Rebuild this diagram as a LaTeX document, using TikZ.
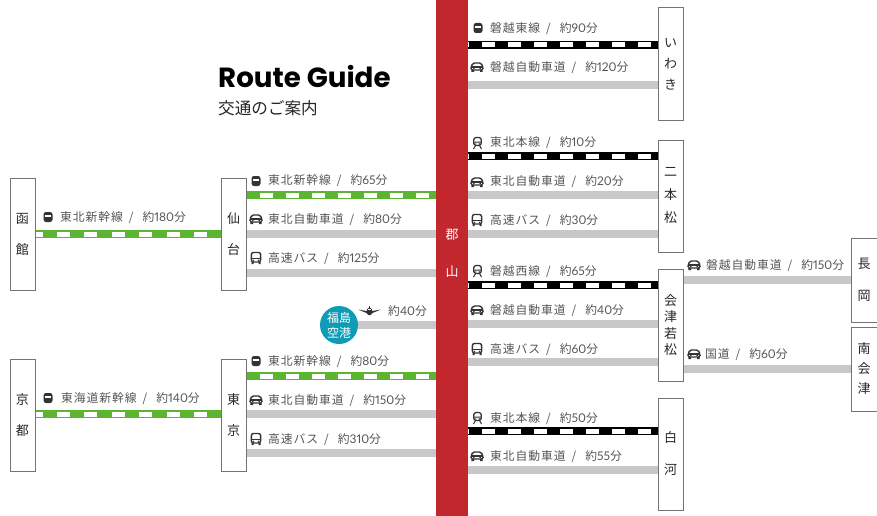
\documentclass[tikz,border=0pt]{standalone}
\usepackage{fontspec}
\setmainfont{Noto Sans CJK JP}
\newfontfamily\titlefont{Poppins}
\newfontfamily\routefont[LetterSpace=8]{Noto Sans CJK JP}
\newfontfamily\digitfont[Numbers=Proportional]{Lato}
\usetikzlibrary{arrows.meta}

\definecolor{koriyamared}{HTML}{C1272D}
\definecolor{railgreen}{HTML}{5CB531}
\definecolor{roadgray}{HTML}{C8C8C8}
\definecolor{airportblue}{HTML}{0E9BB6}
\definecolor{labelgray}{HTML}{555555}
\definecolor{iconblack}{HTML}{333333}

\newcommand{\rsep}{\hspace{6pt}/\hspace{9pt}}
\newcommand{\rtime}[1]{約{\digitfont\fontsize{12}{14}\selectfont #1}分}

\tikzset{
    city/.style={shape=rectangle,draw=black!55,line width=1pt,fill=white,minimum width=25pt,inner sep=0pt,align=center,font=\fontsize{13}{17}\selectfont,text=black!85},
    route/.style={anchor=west,inner sep=0pt,yshift=-1pt,text=labelgray,font=\routefont\fontsize{11.8}{14}\selectfont},
    road/.style={draw=roadgray,line width=8pt},
    greenrail/.style={draw=railgreen,line width=8pt,postaction={draw=white,line width=5pt,dash pattern=on 13pt off 13pt,dash phase=13pt}},
    widerail/.style={draw=railgreen,line width=8pt,postaction={draw=white,line width=5pt,dash pattern=on 13pt off 14.4pt,dash phase=6pt}},
    blackrail/.style={draw=black,line width=8pt,postaction={draw=white,line width=5pt,dash pattern=on 13pt off 13pt,dash phase=12pt}},
    pics/expressicon/.style={code={
        \fill[iconblack,rounded corners=2.5pt] (-4.5,-5) rectangle (4.5,5);
        \fill[white] (-3,-2) rectangle (3,0.4);
    }},
    pics/localicon/.style={code={
        \draw[iconblack,line width=1.3pt,fill=white,rounded corners=2.5pt] (-3.8,-5.5) rectangle (3.8,2.5);
        \draw[iconblack,line width=1pt] (-3.8,-1) -- (3.8,-1) (-2,2.5) -- (-4,6) (2,2.5) -- (4,6);
        \fill[iconblack] (-1.7,1) circle (0.8) (1.7,1) circle (0.8);
    }},
    pics/caricon/.style={code={
        \draw[iconblack,line width=1.4pt,fill=white,rounded corners=1.5pt] (-6,3) -- (-6,0) -- (-4,-4) -- (4,-4) -- (6,0) -- (6,3) -- cycle;
        \draw[iconblack,line width=1.1pt] (-6,0) -- (6,0);
        \fill[iconblack] (-5.7,3) rectangle (-3,5) (5.7,3) rectangle (3,5);
        \fill[iconblack] (-3.2,1.6) circle (0.9) (3.2,1.6) circle (0.9);
    }},
    pics/busicon/.style={code={
        \draw[iconblack,line width=1.4pt,fill=white,rounded corners=2pt] (-4.6,-5.5) rectangle (4.6,4);
        \draw[iconblack,line width=1.1pt] (-4.6,0.5) -- (4.6,0.5);
        \fill[iconblack] (-4.5,4) rectangle (-2.5,6.2) (4.5,4) rectangle (2.5,6.2);
        \fill[iconblack] (-2.4,2.3) circle (0.8) (2.4,2.3) circle (0.8);
    }},
    pics/planeicon/.style={code={
        \fill[iconblack] (-11.5,-1.5) -- (-3,0) -- (3,0) -- (11.5,-1.5) -- (3,2) -- (-3,2) -- cycle;
        \fill[iconblack,rounded corners=1.5pt] (-2.6,-3) rectangle (2.6,4);
        \fill[iconblack] (-0.5,-5) rectangle (0.5,-3);
        \fill[white] (-1.6,-1.6) rectangle (1.6,-0.8);
    }}
}

\begin{document}
\begin{tikzpicture}[x=1pt,y=-1pt]
    \useasboundingbox (0,0) rectangle (877,516);

    % title
    \node[anchor=west,inner sep=0pt,font=\titlefont\bfseries\fontsize{27.7}{30}\selectfont] (title) at (218,77) {Route Guide};
    \node[anchor=west,inner sep=0pt,text=black!85,font=\fontsize{16.6}{20}\selectfont] (subtitle) at (218,108) {交通のご案内};

    % bar and towns
    \node[shape=rectangle,fill=koriyamared,minimum width=32pt,minimum height=516pt,inner sep=0pt] (koriyama) at (452,258) {};
    \node[inner sep=0pt,text=white,align=center,font=\fontsize{13}{37}\selectfont] (koriyamaname) at (452,253) {郡\\山};

    \node[city,minimum height=112pt,font=\fontsize{13}{31}\selectfont] (hakodate) at (22.5,234) {函\\館};
    \node[city,minimum height=112pt,font=\fontsize{13}{31}\selectfont] (sendai) at (233.5,234) {仙\\台};
    \node[city,minimum height=112pt,font=\fontsize{13}{31}\selectfont] (kyoto) at (22.5,415) {京\\都};
    \node[city,minimum height=112pt,font=\fontsize{13}{31}\selectfont] (tokyo) at (233.5,415) {東\\京};
    \node[city,minimum height=112pt,font=\fontsize{13}{21}\selectfont] (iwaki) at (670.5,64) {い\\わ\\き};
    \node[city,minimum height=112pt,font=\fontsize{13}{23}\selectfont] (nihonmatsu) at (670.5,196) {二\\本\\松};
    \node[city,minimum height=112pt,font=\fontsize{13}{16.4}\selectfont] (aizu) at (670.5,325) {会\\津\\若\\松};
    \node[city,minimum height=112pt,font=\fontsize{13}{32}\selectfont] (shirakawa) at (670.5,454) {白\\河};
    \node[city,minimum width=26pt,minimum height=84pt,font=\fontsize{13}{32}\selectfont] (nagaoka) at (864,280) {長\\岡};
    \node[city,minimum width=26pt,minimum height=84pt,font=\fontsize{13}{20}\selectfont] (minamiaizu) at (864,369) {南\\会\\津};
    \node[shape=circle,fill=airportblue,minimum size=38pt,inner sep=0pt,text=white,align=center,font=\fontsize{12}{15}\selectfont] (airport) at (339,325) {福島\\空港};

    % connectors
    \draw[widerail] (hakodate.east |- 0,234) -- (sendai.west |- 0,234);
    \draw[greenrail] (sendai.east |- 0,195) -- (koriyama.west |- 0,195);
    \draw[road] (sendai.east |- 0,234) -- (koriyama.west |- 0,234);
    \draw[road] (sendai.east |- 0,273) -- (koriyama.west |- 0,273);
    \draw[road] (airport.east |- 0,325) -- (koriyama.west |- 0,325);
    \draw[widerail] (kyoto.east |- 0,414) -- (tokyo.west |- 0,414);
    \draw[greenrail] (tokyo.east |- 0,376) -- (koriyama.west |- 0,376);
    \draw[road] (tokyo.east |- 0,414) -- (koriyama.west |- 0,414);
    \draw[road] (tokyo.east |- 0,453) -- (koriyama.west |- 0,453);

    \draw[blackrail] (koriyama.east |- 0,45) -- (iwaki.west |- 0,45);
    \draw[road] (koriyama.east |- 0,85) -- (iwaki.west |- 0,85);
    \draw[blackrail] (koriyama.east |- 0,156) -- (nihonmatsu.west |- 0,156);
    \draw[road] (koriyama.east |- 0,195) -- (nihonmatsu.west |- 0,195);
    \draw[road] (koriyama.east |- 0,234) -- (nihonmatsu.west |- 0,234);
    \draw[blackrail] (koriyama.east |- 0,285) -- (aizu.west |- 0,285);
    \draw[road] (koriyama.east |- 0,324) -- (aizu.west |- 0,324);
    \draw[road] (koriyama.east |- 0,362) -- (aizu.west |- 0,362);
    \draw[blackrail] (koriyama.east |- 0,431) -- (shirakawa.west |- 0,431);
    \draw[road] (koriyama.east |- 0,470) -- (shirakawa.west |- 0,470);
    \draw[road] (aizu.east |- 0,280) -- (nagaoka.west |- 0,280);
    \draw[road] (aizu.east |- 0,369) -- (minamiaizu.west |- 0,369);

    % labels, left side
    \pic at (48,217) {expressicon};
    \node[route] (r1) at (60,217) {東北新幹線\rsep\rtime{180}};
    \pic at (256,181) {expressicon};
    \node[route] (r2) at (268,180) {東北新幹線\rsep\rtime{65}};
    \pic at (256,219) {caricon};
    \node[route] (r3) at (268,219) {東北自動車道\rsep\rtime{80}};
    \pic at (256,258) {busicon};
    \node[route] (r4) at (268,258) {高速バス\rsep\rtime{125}};
    \pic at (369.5,311) {planeicon};
    \node[route] (r5) at (388,310) {\rtime{40}};
    \pic at (48,398) {expressicon};
    \node[route] (r6) at (61,398) {東海道新幹線\rsep\rtime{140}};
    \pic at (256,361) {expressicon};
    \node[route] (r7) at (268,361) {東北新幹線\rsep\rtime{80}};
    \pic at (256,400) {caricon};
    \node[route] (r8) at (268,400) {東北自動車道\rsep\rtime{150}};
    \pic at (256,439) {busicon};
    \node[route] (r9) at (268,439) {高速バス\rsep\rtime{310}};

    % labels, right side
    \pic at (478,28) {expressicon};
    \node[route] (r10) at (490,28) {磐越東線\rsep\rtime{90}};
    \pic at (477,67) {caricon};
    \node[route] (r11) at (490,67) {磐越自動車道\rsep\rtime{120}};
    \pic at (477.5,143) {localicon};
    \node[route] (r12) at (490,142) {東北本線\rsep\rtime{10}};
    \pic at (477,182) {caricon};
    \node[route] (r13) at (490,181) {東北自動車道\rsep\rtime{20}};
    \pic at (477,220) {busicon};
    \node[route] (r14) at (490,220) {高速バス\rsep\rtime{30}};
    \pic at (477.5,271) {localicon};
    \node[route] (r15) at (490,271) {磐越西線\rsep\rtime{65}};
    \pic at (477,310) {caricon};
    \node[route] (r16) at (490,310) {磐越自動車道\rsep\rtime{40}};
    \pic at (477,349) {busicon};
    \node[route] (r17) at (490,349) {高速バス\rsep\rtime{60}};
    \pic at (477.5,418) {localicon};
    \node[route] (r18) at (490,418) {東北本線\rsep\rtime{50}};
    \pic at (477,456) {caricon};
    \node[route] (r19) at (490,456) {東北自動車道\rsep\rtime{55}};
    \pic at (694,265) {caricon};
    \node[route] (r20) at (706,265) {磐越自動車道\rsep\rtime{150}};
    \pic at (694,354) {caricon};
    \node[route] (r21) at (705,354) {国道\rsep\rtime{60}};

\end{tikzpicture}
\end{document}
